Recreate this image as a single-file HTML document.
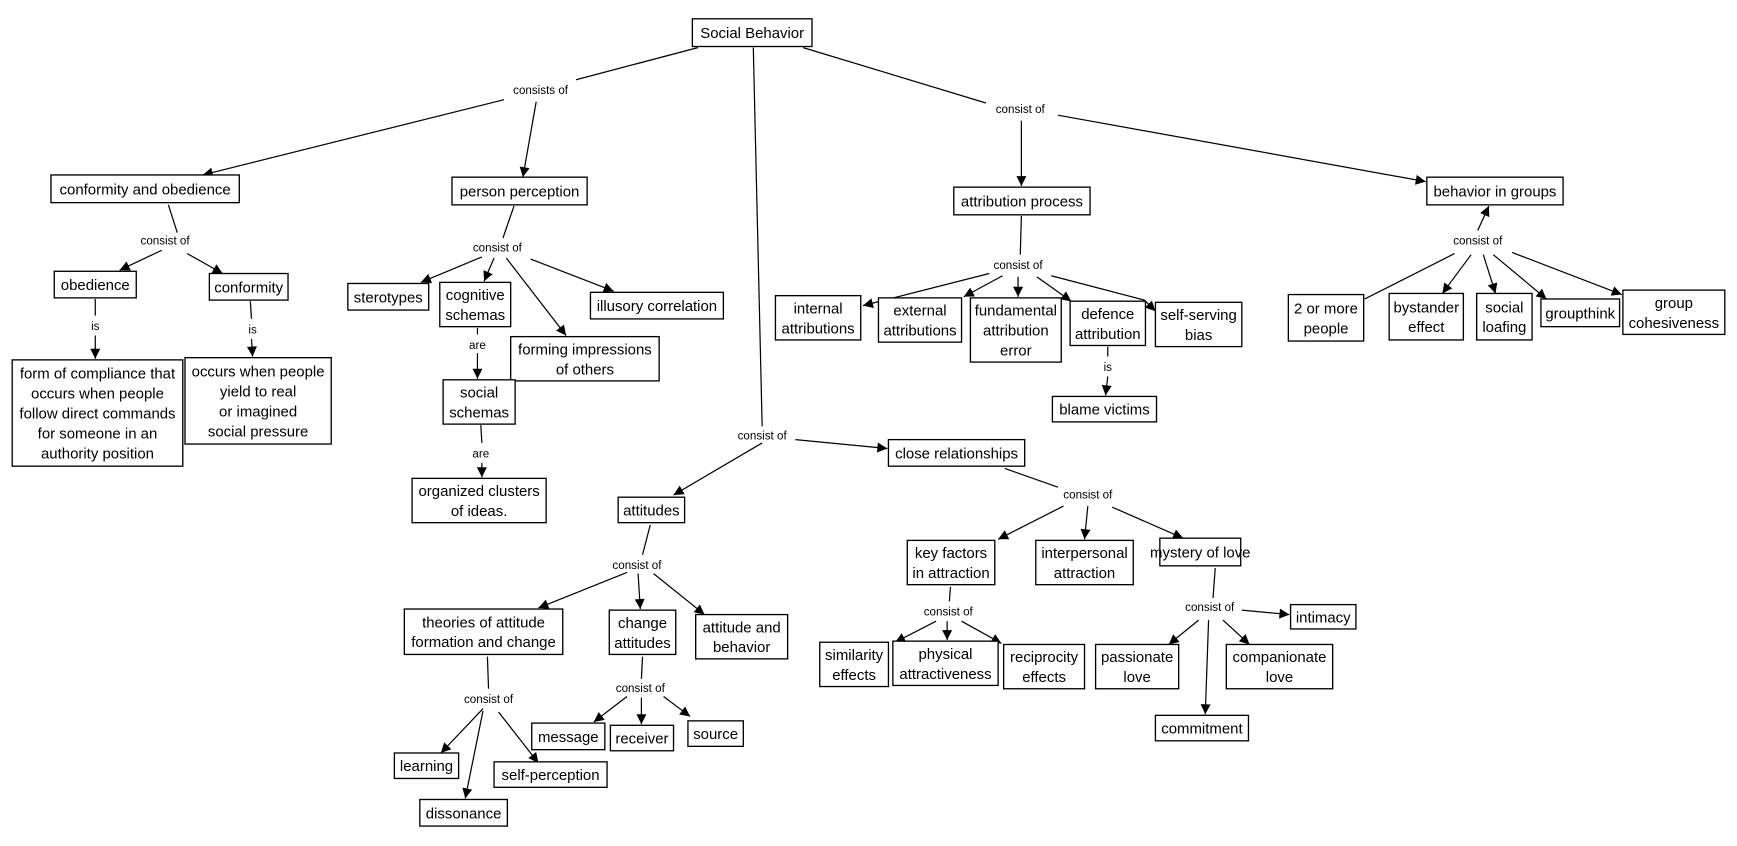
<!DOCTYPE html>
<html><head><meta charset="utf-8"><style>
html,body{margin:0;padding:0;background:#fff;}
svg{display:block;}
text{font-family:"Liberation Sans",Arial,sans-serif;fill:#000;}
.b{font-size:13.5px;text-anchor:middle;}
.l{font-size:10.5px;text-anchor:middle;}
rect{fill:#fff;stroke:#000;stroke-width:1.2;}
line{stroke:#000;stroke-width:1.1;}
</style></head><body>
<svg width="1737" height="846" viewBox="0 0 1568 764" preserveAspectRatio="none" xmlns="http://www.w3.org/2000/svg">
<defs><marker id="a" viewBox="0 0 10 10" refX="10" refY="5" markerWidth="11" markerHeight="9" markerUnits="userSpaceOnUse" orient="auto"><path d="M0,0L10,5L0,10z" fill="#000"/></marker></defs>
<g>
<line x1="630" y1="43" x2="520" y2="72"/><line x1="455" y1="90" x2="183" y2="158" marker-end="url(#a)"/>
<line x1="484" y1="92" x2="472" y2="160" marker-end="url(#a)"/>
<line x1="680" y1="43" x2="688" y2="385"/>
<line x1="688" y1="400" x2="608" y2="447" marker-end="url(#a)"/><line x1="718" y1="397" x2="801" y2="405" marker-end="url(#a)"/>
<line x1="725" y1="43" x2="890" y2="93"/><line x1="922" y1="109" x2="922" y2="168" marker-end="url(#a)"/><line x1="955" y1="104" x2="1287" y2="164" marker-end="url(#a)"/>
<line x1="152" y1="185" x2="160" y2="210"/><line x1="146" y1="226" x2="108" y2="244" marker-end="url(#a)"/><line x1="169" y1="229" x2="201" y2="247" marker-end="url(#a)"/>
<line x1="86" y1="270" x2="86" y2="285"/><line x1="86" y1="303" x2="86" y2="324" marker-end="url(#a)"/>
<line x1="226" y1="272" x2="227" y2="288"/><line x1="227" y1="306" x2="228" y2="322" marker-end="url(#a)"/>
<line x1="464" y1="186" x2="454" y2="215"/><line x1="435" y1="232" x2="380" y2="255" marker-end="url(#a)"/><line x1="446" y1="233" x2="437" y2="254" marker-end="url(#a)"/><line x1="457" y1="233" x2="511" y2="303" marker-end="url(#a)"/><line x1="479" y1="234" x2="554" y2="263" marker-end="url(#a)"/>
<line x1="431" y1="296" x2="431" y2="302"/><line x1="431" y1="319" x2="431" y2="342" marker-end="url(#a)"/>
<line x1="434" y1="384" x2="435" y2="400"/><line x1="435" y1="418" x2="435" y2="431" marker-end="url(#a)"/>
<line x1="922" y1="195" x2="921" y2="230"/><line x1="893" y1="247" x2="779" y2="276" marker-end="url(#a)"/><line x1="905" y1="249" x2="870" y2="268" marker-end="url(#a)"/><line x1="919" y1="250" x2="919" y2="268" marker-end="url(#a)"/><line x1="936" y1="250" x2="967" y2="272" marker-end="url(#a)"/><line x1="949" y1="249" x2="1033" y2="271"/><line x1="1033" y1="271" x2="1043" y2="281" marker-end="url(#a)"/>
<line x1="1000" y1="313" x2="1000" y2="322"/><line x1="1000" y1="340" x2="998" y2="357" marker-end="url(#a)"/>
<line x1="1334" y1="208" x2="1344" y2="186" marker-end="url(#a)"/><line x1="1313" y1="229" x2="1232" y2="270"/><line x1="1328" y1="230" x2="1302" y2="265" marker-end="url(#a)"/><line x1="1339" y1="230" x2="1350" y2="265" marker-end="url(#a)"/><line x1="1348" y1="230" x2="1396" y2="270" marker-end="url(#a)"/><line x1="1365" y1="228" x2="1464" y2="266" marker-end="url(#a)"/>
<line x1="907" y1="423" x2="955" y2="440"/><line x1="960" y1="457" x2="901" y2="487" marker-end="url(#a)"/><line x1="982" y1="457" x2="979" y2="487" marker-end="url(#a)"/><line x1="1004" y1="458" x2="1068" y2="486" marker-end="url(#a)"/>
<line x1="587" y1="474" x2="580" y2="501"/><line x1="566" y1="517" x2="486" y2="549" marker-end="url(#a)"/><line x1="576" y1="518" x2="578" y2="550" marker-end="url(#a)"/><line x1="590" y1="518" x2="636" y2="555" marker-end="url(#a)"/>
<line x1="440" y1="593" x2="441" y2="622"/><line x1="436" y1="640" x2="398" y2="680" marker-end="url(#a)"/><line x1="436" y1="642" x2="420" y2="721" marker-end="url(#a)"/><line x1="450" y1="643" x2="486" y2="689" marker-end="url(#a)"/>
<line x1="580" y1="593" x2="579" y2="613"/><line x1="566" y1="629" x2="536" y2="652" marker-end="url(#a)"/><line x1="579" y1="630" x2="579" y2="654" marker-end="url(#a)"/><line x1="599" y1="629" x2="623" y2="647" marker-end="url(#a)"/>
<line x1="858" y1="530" x2="857" y2="543"/><line x1="845" y1="561" x2="808" y2="580" marker-end="url(#a)"/><line x1="855" y1="561" x2="855" y2="578" marker-end="url(#a)"/><line x1="868" y1="561" x2="904" y2="581" marker-end="url(#a)"/>
<line x1="1097" y1="513" x2="1095" y2="540"/><line x1="1082" y1="560" x2="1055" y2="582" marker-end="url(#a)"/><line x1="1091" y1="560" x2="1088" y2="645" marker-end="url(#a)"/><line x1="1104" y1="560" x2="1128" y2="582" marker-end="url(#a)"/><line x1="1121" y1="551" x2="1164" y2="555" marker-end="url(#a)"/>
</g>
<g>
<rect x="625" y="17" width="108" height="25"/><text class="b" x="679" y="34.5">Social Behavior</text>
<rect x="46" y="158" width="170" height="25"/><text class="b" x="131" y="175.5">conformity and obedience</text>
<rect x="408" y="160" width="122" height="25"/><text class="b" x="469" y="177.5">person perception</text>
<rect x="861" y="169" width="123" height="25"/><text class="b" x="922.5" y="186.5">attribution process</text>
<rect x="1288" y="160" width="123" height="25"/><text class="b" x="1349.5" y="177.5">behavior in groups</text>
<rect x="49" y="245" width="74" height="24"/><text class="b" x="86" y="262">obedience</text>
<rect x="189" y="247" width="71" height="24"/><text class="b" x="224.5" y="264">conformity</text>
<rect x="11" y="325" width="154" height="96"/><text class="b" x="88" y="342">form of compliance that<tspan x="88" dy="18">occurs when people</tspan><tspan x="88" dy="18">follow direct commands</tspan><tspan x="88" dy="18">for someone in an</tspan><tspan x="88" dy="18">authority position</tspan></text>
<rect x="167" y="323" width="132" height="78"/><text class="b" x="233" y="340">occurs when people<tspan x="233" dy="18">yield to real</tspan><tspan x="233" dy="18">or imagined</tspan><tspan x="233" dy="18">social pressure</tspan></text>
<rect x="314" y="256" width="73" height="24"/><text class="b" x="350.5" y="273">sterotypes</text>
<rect x="397" y="255" width="64" height="40"/><text class="b" x="429" y="271">cognitive<tspan x="429" dy="18">schemas</tspan></text>
<rect x="533" y="264" width="120" height="24"/><text class="b" x="593" y="281">illusory correlation</text>
<rect x="461" y="304" width="134" height="40"/><text class="b" x="528" y="320">forming impressions<tspan x="528" dy="18">of others</tspan></text>
<rect x="400" y="343" width="65" height="40"/><text class="b" x="432.5" y="359">social<tspan x="432.5" dy="18">schemas</tspan></text>
<rect x="372" y="432" width="121" height="40"/><text class="b" x="432.5" y="448">organized clusters<tspan x="432.5" dy="18">of ideas.</tspan></text>
<rect x="700" y="267" width="77" height="40"/><text class="b" x="738.5" y="283">internal<tspan x="738.5" dy="18">attributions</tspan></text>
<rect x="793" y="269" width="75" height="40"/><text class="b" x="830.5" y="285">external<tspan x="830.5" dy="18">attributions</tspan></text>
<rect x="876" y="269" width="82" height="58"/><text class="b" x="917" y="285">fundamental<tspan x="917" dy="18">attribution</tspan><tspan x="917" dy="18">error</tspan></text>
<rect x="966" y="272" width="68" height="40"/><text class="b" x="1000" y="288">defence<tspan x="1000" dy="18">attribution</tspan></text>
<rect x="1043" y="273" width="78" height="40"/><text class="b" x="1082" y="289">self-serving<tspan x="1082" dy="18">bias</tspan></text>
<rect x="950" y="358" width="94" height="23"/><text class="b" x="997" y="374.5">blame victims</text>
<rect x="1163" y="266" width="68" height="42"/><text class="b" x="1197" y="283">2 or more<tspan x="1197" dy="18">people</tspan></text>
<rect x="1254" y="265" width="67" height="42"/><text class="b" x="1287.5" y="282">bystander<tspan x="1287.5" dy="18">effect</tspan></text>
<rect x="1333" y="265" width="50" height="42"/><text class="b" x="1358" y="282">social<tspan x="1358" dy="18">loafing</tspan></text>
<rect x="1391" y="270" width="71" height="25"/><text class="b" x="1426.5" y="287.5">groupthink</text>
<rect x="1465" y="262" width="92" height="40"/><text class="b" x="1511" y="278">group<tspan x="1511" dy="18">cohesiveness</tspan></text>
<rect x="802" y="397" width="123" height="24"/><text class="b" x="863.5" y="414">close relationships</text>
<rect x="558" y="449" width="60" height="23"/><text class="b" x="588" y="465.5">attitudes</text>
<rect x="365" y="550" width="143" height="41"/><text class="b" x="436.5" y="566.5">theories of attitude<tspan x="436.5" dy="18">formation and change</tspan></text>
<rect x="550" y="551" width="60" height="40"/><text class="b" x="580" y="567">change<tspan x="580" dy="18">attitudes</tspan></text>
<rect x="628" y="555" width="83" height="40"/><text class="b" x="669.5" y="571">attitude and<tspan x="669.5" dy="18">behavior</tspan></text>
<rect x="356" y="680" width="58" height="23"/><text class="b" x="385" y="696.5">learning</text>
<rect x="379" y="722" width="79" height="24"/><text class="b" x="418.5" y="739">dissonance</text>
<rect x="446" y="688" width="102" height="23"/><text class="b" x="497" y="704.5">self-perception</text>
<rect x="480" y="653" width="66" height="24"/><text class="b" x="513" y="670">message</text>
<rect x="551" y="655" width="57" height="23"/><text class="b" x="579.5" y="671.5">receiver</text>
<rect x="621" y="651" width="50" height="23"/><text class="b" x="646" y="667.5">source</text>
<rect x="819" y="488" width="79" height="40"/><text class="b" x="858.5" y="504">key factors<tspan x="858.5" dy="18">in attraction</tspan></text>
<rect x="935" y="488" width="88" height="40"/><text class="b" x="979" y="504">interpersonal<tspan x="979" dy="18">attraction</tspan></text>
<rect x="1047" y="486" width="73" height="25"/><text class="b" x="1083.5" y="503.5">mystery of love</text>
<rect x="740" y="580" width="62" height="40"/><text class="b" x="771" y="596">similarity<tspan x="771" dy="18">effects</tspan></text>
<rect x="806" y="579" width="95" height="40"/><text class="b" x="853.5" y="595">physical<tspan x="853.5" dy="18">attractiveness</tspan></text>
<rect x="906" y="582" width="73" height="40"/><text class="b" x="942.5" y="598">reciprocity<tspan x="942.5" dy="18">effects</tspan></text>
<rect x="989" y="582" width="75" height="40"/><text class="b" x="1026.5" y="598">passionate<tspan x="1026.5" dy="18">love</tspan></text>
<rect x="1107" y="582" width="96" height="40"/><text class="b" x="1155" y="598">companionate<tspan x="1155" dy="18">love</tspan></text>
<rect x="1165" y="546" width="59" height="22"/><text class="b" x="1194.5" y="562">intimacy</text>
<rect x="1043" y="646" width="84" height="23"/><text class="b" x="1085" y="662.5">commitment</text>
</g>
<g>
<text class="l" x="488" y="85">consists of</text>
<text class="l" x="921" y="102">consist of</text>
<text class="l" x="688" y="397">consist of</text>
<text class="l" x="149" y="221">consist of</text>
<text class="l" x="86" y="298">is</text>
<text class="l" x="228" y="301">is</text>
<text class="l" x="449" y="227">consist of</text>
<text class="l" x="431" y="315">are</text>
<text class="l" x="434" y="413">are</text>
<text class="l" x="919" y="243">consist of</text>
<text class="l" x="1000" y="335">is</text>
<text class="l" x="1334" y="221">consist of</text>
<text class="l" x="982" y="450">consist of</text>
<text class="l" x="575" y="514">consist of</text>
<text class="l" x="441" y="635">consist of</text>
<text class="l" x="578" y="625">consist of</text>
<text class="l" x="856" y="556">consist of</text>
<text class="l" x="1092" y="552">consist of</text>
</g>
</svg>
</body></html>
